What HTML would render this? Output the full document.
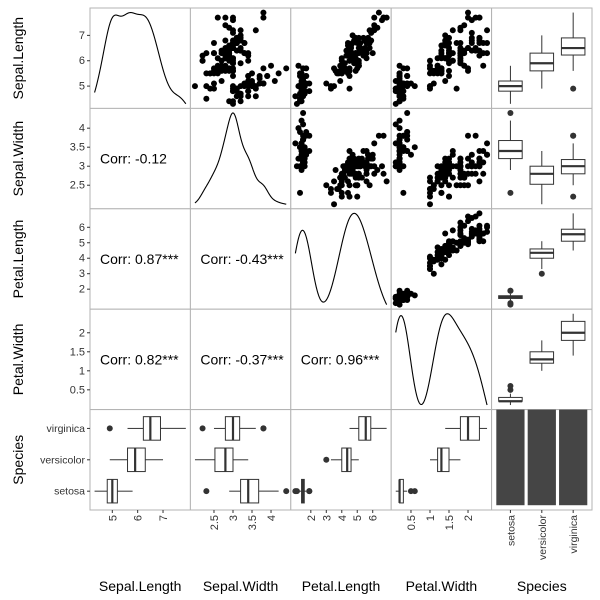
<!DOCTYPE html>
<html><head><meta charset="utf-8"><style>
html,body{margin:0;padding:0;background:#fff;}
svg{display:block;font-family:"Liberation Sans",sans-serif;}
</style></head><body>
<svg id="chart" width="600" height="600" viewBox="0 0 600 600"></svg>
<script>
const varNames=["Sepal.Length","Sepal.Width","Petal.Length","Petal.Width","Species"];
const speciesNames=["setosa","versicolor","virginica"];
const setosaData=[[5.1,3.5,1.4,0.2],[4.9,3.0,1.4,0.2],[4.7,3.2,1.3,0.2],[4.6,3.1,1.5,0.2],[5.0,3.6,1.4,0.2],[5.4,3.9,1.7,0.4],[4.6,3.4,1.4,0.3],[5.0,3.4,1.5,0.2],[4.4,2.9,1.4,0.2],[4.9,3.1,1.5,0.1],[5.4,3.7,1.5,0.2],[4.8,3.4,1.6,0.2],[4.8,3.0,1.4,0.1],[4.3,3.0,1.1,0.1],[5.8,4.0,1.2,0.2],[5.7,4.4,1.5,0.4],[5.4,3.9,1.3,0.4],[5.1,3.5,1.4,0.3],[5.7,3.8,1.7,0.3],[5.1,3.8,1.5,0.3],[5.4,3.4,1.7,0.2],[5.1,3.7,1.5,0.4],[4.6,3.6,1.0,0.2],[5.1,3.3,1.7,0.5],[4.8,3.4,1.9,0.2],[5.0,3.0,1.6,0.2],[5.0,3.4,1.6,0.4],[5.2,3.5,1.5,0.2],[5.2,3.4,1.4,0.2],[4.7,3.2,1.6,0.2],[4.8,3.1,1.6,0.2],[5.4,3.4,1.5,0.4],[5.2,4.1,1.5,0.1],[5.5,4.2,1.4,0.2],[4.9,3.1,1.5,0.2],[5.0,3.2,1.2,0.2],[5.5,3.5,1.3,0.2],[4.9,3.6,1.4,0.1],[4.4,3.0,1.3,0.2],[5.1,3.4,1.5,0.2],[5.0,3.5,1.3,0.3],[4.5,2.3,1.3,0.3],[4.4,3.2,1.3,0.2],[5.0,3.5,1.6,0.6],[5.1,3.8,1.9,0.4],[4.8,3.0,1.4,0.3],[5.1,3.8,1.6,0.2],[4.6,3.2,1.4,0.2],[5.3,3.7,1.5,0.2],[5.0,3.3,1.4,0.2]];
const versicolorData=[[7.0,3.2,4.7,1.4],[6.4,3.2,4.5,1.5],[6.9,3.1,4.9,1.5],[5.5,2.3,4.0,1.3],[6.5,2.8,4.6,1.5],[5.7,2.8,4.5,1.3],[6.3,3.3,4.7,1.6],[4.9,2.4,3.3,1.0],[6.6,2.9,4.6,1.3],[5.2,2.7,3.9,1.4],[5.0,2.0,3.5,1.0],[5.9,3.0,4.2,1.5],[6.0,2.2,4.0,1.0],[6.1,2.9,4.7,1.4],[5.6,2.9,3.6,1.3],[6.7,3.1,4.4,1.4],[5.6,3.0,4.5,1.5],[5.8,2.7,4.1,1.0],[6.2,2.2,4.5,1.5],[5.6,2.5,3.9,1.1],[5.9,3.2,4.8,1.8],[6.1,2.8,4.0,1.3],[6.3,2.5,4.9,1.5],[6.1,2.8,4.7,1.2],[6.4,2.9,4.3,1.3],[6.6,3.0,4.4,1.4],[6.8,2.8,4.8,1.4],[6.7,3.0,5.0,1.7],[6.0,2.9,4.5,1.5],[5.7,2.6,3.5,1.0],[5.5,2.4,3.8,1.1],[5.5,2.4,3.7,1.0],[5.8,2.7,3.9,1.2],[6.0,2.7,5.1,1.6],[5.4,3.0,4.5,1.5],[6.0,3.4,4.5,1.6],[6.7,3.1,4.7,1.5],[6.3,2.3,4.4,1.3],[5.6,3.0,4.1,1.3],[5.5,2.5,4.0,1.3],[5.5,2.6,4.4,1.2],[6.1,3.0,4.6,1.4],[5.8,2.6,4.0,1.2],[5.0,2.3,3.3,1.0],[5.6,2.7,4.2,1.3],[5.7,3.0,4.2,1.2],[5.7,2.9,4.2,1.3],[6.2,2.9,4.3,1.3],[5.1,2.5,3.0,1.1],[5.7,2.8,4.1,1.3]];
const virginicaData=[[6.3,3.3,6.0,2.5],[5.8,2.7,5.1,1.9],[7.1,3.0,5.9,2.1],[6.3,2.9,5.6,1.8],[6.5,3.0,5.8,2.2],[7.6,3.0,6.6,2.1],[4.9,2.5,4.5,1.7],[7.3,2.9,6.3,1.8],[6.7,2.5,5.8,1.8],[7.2,3.6,6.1,2.5],[6.5,3.2,5.1,2.0],[6.4,2.7,5.3,1.9],[6.8,3.0,5.5,2.1],[5.7,2.5,5.0,2.0],[5.8,2.8,5.1,2.4],[6.4,3.2,5.3,2.3],[6.5,3.0,5.5,1.8],[7.7,3.8,6.7,2.2],[7.7,2.6,6.9,2.3],[6.0,2.2,5.0,1.5],[6.9,3.2,5.7,2.3],[5.6,2.8,4.9,2.0],[7.7,2.8,6.7,2.0],[6.3,2.7,4.9,1.8],[6.7,3.3,5.7,2.1],[7.2,3.2,6.0,1.8],[6.2,2.8,4.8,1.8],[6.1,3.0,4.9,1.8],[6.4,2.8,5.6,2.1],[7.2,3.0,5.8,1.6],[7.4,2.8,6.1,1.9],[7.9,3.8,6.4,2.0],[6.4,2.8,5.6,2.2],[6.3,2.8,5.1,1.5],[6.1,2.6,5.6,1.4],[7.7,3.0,6.1,2.3],[6.3,3.4,5.6,2.4],[6.4,3.1,5.5,1.8],[6.0,3.0,4.8,1.8],[6.9,3.1,5.4,2.1],[6.7,3.1,5.6,2.4],[6.9,3.1,5.1,2.3],[5.8,2.7,5.1,1.9],[6.8,3.2,5.9,2.3],[6.7,3.3,5.7,2.5],[6.7,3.0,5.2,2.3],[6.3,2.5,5.0,1.9],[6.5,3.0,5.2,2.0],[6.2,3.4,5.4,2.3],[5.9,3.0,5.1,1.8]];
const corrLabels={"1,0":"Corr: -0.12","2,0":"Corr: 0.87***","2,1":"Corr: -0.43***","3,0":"Corr: 0.82***","3,1":"Corr: -0.37***","3,2":"Corr: 0.96***"};
const tickVals=[[5,6,7],[2.5,3,3.5,4],[2,3,4,5,6],[0.5,1,1.5,2]];
const tickText=[["5","6","7"],["2.5","3","3.5","4"],["2","3","4","5","6"],["0.5","1","1.5","2"]];

const NS="http://www.w3.org/2000/svg";
const svg=document.getElementById('chart');
const L=90,T=8,P=100.4;
function mk(tag,attrs,parent){const e=document.createElementNS(NS,tag);for(const k in attrs)e.setAttribute(k,attrs[k]);(parent||svg).appendChild(e);return e;}
const groups=[setosaData,versicolorData,virginicaData];
const all=[];groups.forEach((g,s)=>g.forEach(r=>all.push({v:r,s})));
const col=k=>all.map(d=>d.v[k]);
const ranges=[0,1,2,3].map(k=>{const a=col(k);const lo=Math.min(...a),hi=Math.max(...a),e=(hi-lo)*0.05;return [lo-e,hi+e];});
function X(k,v,c){const r=ranges[k];return L+c*P+(v-r[0])/(r[1]-r[0])*P;}
function Y(k,v,rw){const r=ranges[k];return T+(rw+1)*P-(v-r[0])/(r[1]-r[0])*P;}
const catPos=i=>(i+1-0.4)/3.2*P;
function quant(a,p){const s=[...a].sort((x,y)=>x-y);const h=(s.length-1)*p,lo=Math.floor(h);return s[lo]+(s[Math.min(lo+1,s.length-1)]-s[lo])*(h-lo);}
function boxStats(a){const q1=quant(a,.25),q3=quant(a,.75),m=quant(a,.5),iqr=q3-q1;const inl=a.filter(v=>v>=q1-1.5*iqr&&v<=q3+1.5*iqr);return {q1,q3,m,lo:Math.min(...inl),hi:Math.max(...inl),out:a.filter(v=>v<q1-1.5*iqr||v>q3+1.5*iqr)};}

// panels
for(let r=0;r<5;r++)for(let c=0;c<5;c++){
  const g=mk('g',{});
  
  
  const x0=L+c*P,y0=T+r*P;
  mk('rect',{x:x0,y:y0,width:P,height:P,fill:'#fff',stroke:'#b3b3b3','stroke-width':1},g);
  if(r<4&&c<4&&r<c){ // scatter
    all.forEach(d=>{const p=mk('circle',{cx:X(c,d.v[c],c),cy:Y(r,d.v[r],r),r:3,fill:'#000'},g);
      });
  } else if(r<4&&c<4&&r===c){ // density
    const a=col(r),n=a.length,mean=a.reduce((s,v)=>s+v,0)/n;
    const sd=Math.sqrt(a.reduce((s,v)=>s+(v-mean)**2,0)/(n-1));
    const bw=0.9*Math.min(sd,(quant(a,.75)-quant(a,.25))/1.34)*Math.pow(n,-0.2);
    const lo=Math.min(...a),hi=Math.max(...a),pts=[];
    for(let i=0;i<512;i++){const x=lo+(hi-lo)*i/511;let s=0;a.forEach(v=>{const z=(x-v)/bw;s+=Math.exp(-z*z/2);});pts.push([x,s/(n*bw*Math.sqrt(2*Math.PI))]);}
    const dmin=Math.min(...pts.map(p=>p[1])),dmax=Math.max(...pts.map(p=>p[1])),e=(dmax-dmin)*0.05;
    const d=pts.map((p,i)=>(i?'L':'M')+X(c,p[0],c).toFixed(2)+','+(y0+P-(p[1]-dmin+e)/(dmax-dmin+2*e)*P).toFixed(2)).join('');
    const pa=mk('path',{d,fill:'none',stroke:'#000','stroke-width':1.1},g);
    
  } else if(r<4&&c<4){ // corr
    const t=mk('text',{x:x0+10,y:y0+P/2+5,'font-size':14,fill:'#000'},g);t.textContent=corrLabels[r+','+c];
    
  } else if(r===4&&c===4){ // bars
    groups.forEach((gr,i)=>{const cx=x0+catPos(i),w=0.9*P/3.2;const top=y0+P-(gr.length/50*0.952+0.0)*P*0.952/0.952;
      const h=gr.length/(50*1.05)*P;const b=mk('rect',{x:cx-w/2,y:y0+P-P*0.05/1.05-h+P*0.0,width:w,height:h,fill:'#454545'},g);
      });
  } else if(c===4){ // vertical boxplots
    groups.forEach((gr,i)=>{const st=boxStats(gr.map(v=>v[r]));const cx=x0+catPos(i),w=0.75*P/3.2;const yy=v=>Y(r,v,r);
      const bg=mk('g',{},g);
      mk('line',{x1:cx,x2:cx,y1:yy(st.hi),y2:yy(st.q3),stroke:'#333'},bg);mk('line',{x1:cx,x2:cx,y1:yy(st.lo),y2:yy(st.q1),stroke:'#333'},bg);
      mk('rect',{x:cx-w/2,y:yy(st.q3),width:w,height:yy(st.q1)-yy(st.q3),fill:'#fff',stroke:'#333','stroke-width':1},bg);
      mk('line',{x1:cx-w/2,x2:cx+w/2,y1:yy(st.m),y2:yy(st.m),stroke:'#333','stroke-width':2.2},bg);
      st.out.forEach(v=>mk('circle',{cx,cy:yy(v),r:3,fill:'#333'},bg));});
  } else { // horizontal boxplots
    groups.forEach((gr,i)=>{const st=boxStats(gr.map(v=>v[c]));const cy=y0+P-catPos(i),h=0.75*P/3.2;const xx=v=>X(c,v,c);
      const bg=mk('g',{},g);
      mk('line',{y1:cy,y2:cy,x1:xx(st.hi),x2:xx(st.q3),stroke:'#333'},bg);mk('line',{y1:cy,y2:cy,x1:xx(st.lo),x2:xx(st.q1),stroke:'#333'},bg);
      mk('rect',{y:cy-h/2,x:xx(st.q1),height:h,width:xx(st.q3)-xx(st.q1),fill:'#fff',stroke:'#333','stroke-width':1},bg);
      mk('line',{y1:cy-h/2,y2:cy+h/2,x1:xx(st.m),x2:xx(st.m),stroke:'#333','stroke-width':2.2},bg);
      st.out.forEach(v=>mk('circle',{cy,cx:xx(v),r:3,fill:'#333'},bg));});
  }
}
// y axes
for(let r=0;r<5;r++){
  const vals=r<4?tickVals[r].map(v=>Y(r,v,r)):speciesNames.map((s,i)=>T+5*P-catPos(i));
  const labs=r<4?tickText[r]:speciesNames;
  vals.forEach((y,i)=>{mk('line',{x1:L-3,x2:L,y1:y,y2:y,stroke:'#333'});
    const t=mk('text',{x:L-5,y:y+3.5,'font-size':r<4?11:10.5,fill:'#333','text-anchor':'end'});t.textContent=labs[i];
    });
  const tt=mk('text',{x:0,y:0,'font-size':14,fill:'#000','text-anchor':'middle',transform:`translate(23,${T+r*P+P/2}) rotate(-90)`});
  tt.textContent=varNames[r];
}
// x axes
const YB=T+5*P;
for(let c=0;c<5;c++){
  const vals=c<4?tickVals[c].map(v=>X(c,v,c)):speciesNames.map((s,i)=>L+4*P+catPos(i));
  const labs=c<4?tickText[c]:speciesNames;
  vals.forEach((x,i)=>{mk('line',{x1:x,x2:x,y1:YB,y2:YB+3,stroke:'#333'});
    const t=mk('text',{x:0,y:0,'font-size':c<4?11:10.5,fill:'#333','text-anchor':'end',transform:`translate(${x+4},${YB+5}) rotate(-90)`});t.textContent=labs[i];
    });
  const tt=mk('text',{x:L+c*P+P/2,y:591,'font-size':14,fill:'#000','text-anchor':'middle'});
  tt.textContent=varNames[c];
}
</script>
</body></html>
